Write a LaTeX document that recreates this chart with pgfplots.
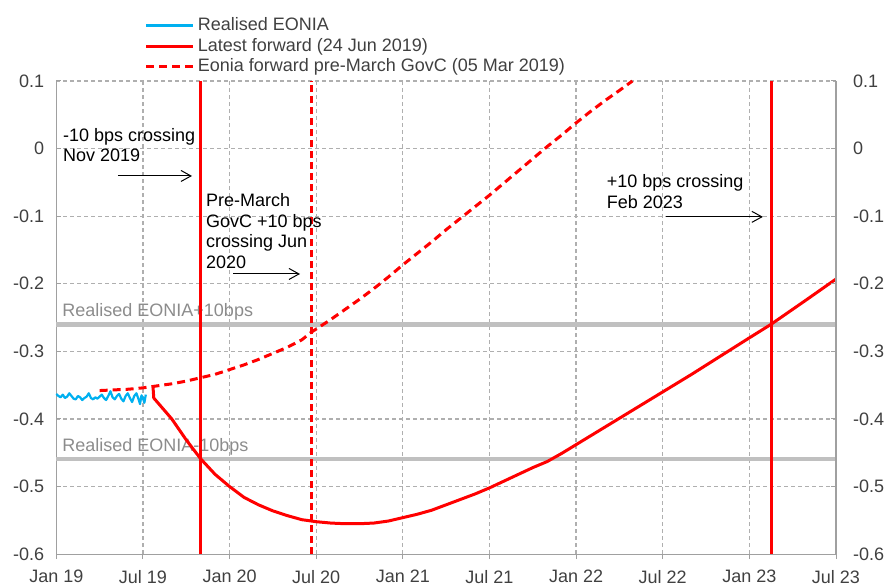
\documentclass[border=0pt]{standalone}
\usepackage{fontspec}
\setmainfont{Liberation Sans}
\usepackage{pgfplots}
\pgfplotsset{compat=1.18}
\usetikzlibrary{arrows.meta}

\definecolor{eonred}{RGB}{255,0,0}
\definecolor{eonblue}{RGB}{0,176,240}
\definecolor{bandgray}{RGB}{192,192,192}
\definecolor{gridgray}{RGB}{175,175,175}
\definecolor{axgray}{RGB}{160,160,160}
\definecolor{labgray}{RGB}{64,64,64}

% months since Jan 2019
\newcommand{\fsz}{\fontsize{9}{10.3}\selectfont}

\begin{document}
\begin{tikzpicture}[font=\fsz]
\pgfplotsset{
    base/.style={
        width=389.9pt, height=236.6pt,
        scale only axis,
        at={(0,0)}, anchor=south west,
        xmin=0, xmax=54,
        ymin=-0.6, ymax=0.1,
        xtick={0,6,...,54},
        ytick={-0.6,-0.5,-0.4,-0.3,-0.2,-0.1,0,0.1},
        yticklabels={-0.6,-0.5,-0.4,-0.3,-0.2,-0.1,0,0.1},
        tick label style={font=\fsz, text=labgray},
        axis line style={axgray, line width=0.6pt},
        tick style={axgray, line width=0.5pt},
        major tick length=2.5pt,
    }
}

\begin{axis}[
    base,
    clip=false,
    axis x line*=bottom,
    axis y line*=left,
    xticklabels={Jan 19,Jul 19,Jan 20,Jul 20,Jan 21,Jul 21,Jan 22,Jul 22,Jan 23,Jul 23},
    xtick align=outside,
    ytick align=inside,
    yticklabel style={xshift=-2.5pt},
    xticklabel style={yshift=-2pt},
    grid=major,
    grid style={color=gridgray, line width=0.6pt, dash pattern=on 2pt off 1.5pt},
    legend style={
        at={(axis description cs:0.113,1)}, anchor=south west,
        yshift=2.5pt,
        draw=none, fill=none, inner sep=0pt,
        font=\fsz, text=labgray,
        row sep=1.25pt, column sep=1.5pt,
        nodes={inner sep=0pt, text height=7pt, text depth=2pt},
    },
    legend cell align=left,
    legend image code/.code={\draw[#1] (0pt,0pt) -- (23.5pt,0pt);},
]

% band labels
\node[anchor=west, text=gray!90, inner sep=0pt] at (axis cs:0.4,-0.242) {Realised EONIA+10bps};
\node[anchor=west, text=gray!90, inner sep=0pt] at (axis cs:0.4,-0.441) {Realised EONIA-10bps};

% +/-10 bps bands
\addplot[bandgray, line width=2.2pt, forget plot] coordinates {(0,-0.26) (54,-0.26)};
\addplot[bandgray, line width=2.2pt, forget plot] coordinates {(0,-0.459) (54,-0.459)};

% Realised EONIA
\addplot[eonblue, line width=1.1pt, line join=round] coordinates {
    (0,-0.363) (0.15,-0.366) (0.3,-0.368) (0.45,-0.364) (0.6,-0.369) (0.75,-0.367)
    (0.9,-0.362) (1.05,-0.366) (1.2,-0.370) (1.35,-0.371) (1.5,-0.366) (1.65,-0.368)
    (1.8,-0.372) (1.95,-0.369) (2.1,-0.367) (2.25,-0.362) (2.4,-0.369) (2.55,-0.371)
    (2.7,-0.368) (2.85,-0.370) (3.0,-0.367) (3.15,-0.364) (3.3,-0.369) (3.45,-0.372)
    (3.6,-0.366) (3.75,-0.359) (3.9,-0.368) (4.05,-0.371) (4.2,-0.366) (4.35,-0.363)
    (4.5,-0.370) (4.65,-0.374) (4.8,-0.366) (4.95,-0.362) (5.1,-0.369) (5.25,-0.375)
    (5.4,-0.366) (5.55,-0.362) (5.7,-0.371) (5.8,-0.378) (5.9,-0.365) (6.0,-0.369)
    (6.1,-0.376) (6.2,-0.364)
};
\addlegendentry{Realised EONIA}

% Latest forward (24 Jun 2019)
\addplot[eonred, line width=1.5pt, line join=round] coordinates {
    (6.7,-0.353) (6.75,-0.369) (8,-0.400) (9,-0.431) (10,-0.459) (11,-0.482)
    (12,-0.500) (13,-0.516) (14,-0.527) (15,-0.536) (16,-0.543) (17,-0.549)
    (18,-0.552) (19,-0.554) (20,-0.555) (21,-0.555) (22,-0.554) (23,-0.551)
    (24,-0.546) (25,-0.541) (26,-0.535) (27,-0.527) (28,-0.519) (29,-0.511)
    (30,-0.502) (31,-0.492) (32,-0.482) (33,-0.472) (34,-0.463) (35,-0.451)
    (36,-0.438) (38,-0.412) (40,-0.386) (42,-0.360) (44,-0.334) (46,-0.307)
    (48,-0.280) (49.5,-0.260) (52,-0.223) (54,-0.193)
};
\addlegendentry{Latest forward (24 Jun 2019)}

% Eonia forward pre-March GovC (05 Mar 2019)
\addplot[eonred, line width=1.5pt, dash pattern=on 4pt off 2.5pt] coordinates {
    (3,-0.358) (4,-0.357) (5,-0.356) (6,-0.354) (7,-0.351) (8,-0.348) (9,-0.344)
    (10,-0.339) (11,-0.334) (12,-0.327) (13,-0.320) (14,-0.312) (15,-0.303)
    (16,-0.294) (17,-0.283) (17.7,-0.271) (18,-0.267) (19,-0.253) (20,-0.238)
    (21,-0.223) (22,-0.207) (23,-0.190) (24,-0.172) (25,-0.155) (26,-0.138)
    (27,-0.120) (28,-0.103) (29,-0.086) (30,-0.069) (31,-0.051) (32,-0.033)
    (33,-0.015) (34,0.003) (35,0.020) (36,0.038) (37,0.055) (38,0.071)
    (39,0.086) (39.9,0.1)
};
\addlegendentry{Eonia forward pre-March GovC (05 Mar 2019)}

% crossing markers
\addplot[eonred, line width=1.5pt, forget plot] coordinates {(10,-0.6) (10,0.1)};
\addplot[eonred, line width=1.5pt, dash pattern=on 3.5pt off 2pt, forget plot] coordinates {(17.7,-0.6) (17.7,0.1)};
\addplot[eonred, line width=1.5pt, forget plot] coordinates {(49.5,-0.6) (49.5,0.1)};

% annotations
\node[anchor=west, align=left, inner sep=0pt] at (axis cs:0.44,0.005)
    {-10 bps crossing\\Nov 2019};
\draw[-{Straight Barb[length=5pt,width=5.5pt]}, line width=0.5pt]
    (axis cs:4.27,-0.0405) -- (axis cs:9.40,-0.0405);
\node[anchor=west, align=left, inner sep=0pt] at (axis cs:10.35,-0.122)
    {Pre-March\\GovC +10 bps\\crossing Jun\\2020};
\draw[-{Straight Barb[length=5pt,width=5.5pt]}, line width=0.5pt]
    (axis cs:12.24,-0.1855) -- (axis cs:16.88,-0.1855);
\node[anchor=west, align=left, inner sep=0pt] at (axis cs:38.1,-0.064)
    {+10 bps crossing\\Feb 2023};
\draw[-{Straight Barb[length=5pt,width=5.5pt]}, line width=0.5pt]
    (axis cs:42.22,-0.101) -- (axis cs:48.94,-0.101);
\end{axis}

% right-hand value axis
\begin{axis}[
    base,
    axis x line=none,
    axis y line*=right,
    ytick align=inside,
    yticklabel style={anchor=west, xshift=5pt},
]
\addplot[draw=none] coordinates {(0,0)};
\end{axis}

\pgfresetboundingbox
\path (-28.15pt,-15.4pt) rectangle (414.4pt,277.1pt);
\end{tikzpicture}
\end{document}
